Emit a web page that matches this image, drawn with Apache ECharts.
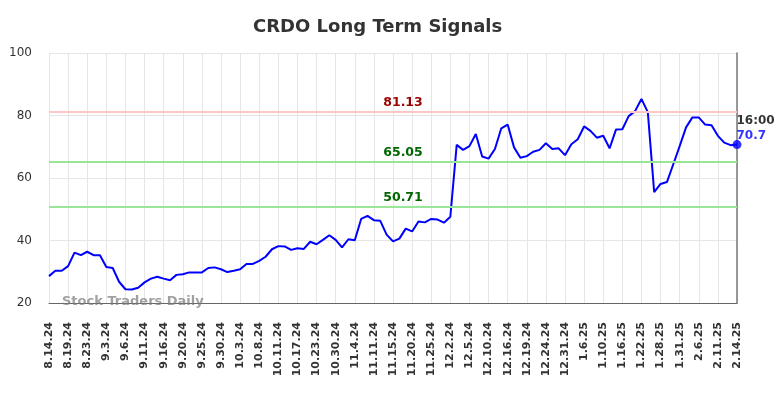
<!DOCTYPE html>
<html>
<head>
<meta charset="utf-8">
<script src="https://cdn.jsdelivr.net/npm/echarts@6/dist/echarts.min.js"></script>
<style>
  html, body { margin: 0; padding: 0; background: #fff; }
  #chart { width: 784px; height: 398px; }
</style>
</head>
<body>
<div id="chart"></div>
<script>
  // tick labels, one every 3 data points
  const dateLabels = ['8.14.24','8.19.24','8.23.24','9.3.24','9.6.24','9.11.24','9.16.24','9.20.24','9.25.24','9.30.24',
    '10.3.24','10.8.24','10.11.24','10.17.24','10.23.24','10.30.24','11.4.24','11.11.24','11.15.24','11.20.24',
    '11.25.24','12.2.24','12.5.24','12.10.24','12.16.24','12.19.24','12.24.24','12.31.24','1.6.25','1.10.25',
    '1.16.25','1.22.25','1.28.25','1.31.25','2.6.25','2.11.25','2.14.25']

  const signal = [
    28.6, 30.3, 30.3, 31.8, 36.1, 35.3, 36.4, 35.3, 35.3, 31.5,
    31.2, 26.8, 24.4, 24.3, 24.9, 26.6, 27.8, 28.4, 27.8, 27.3,
    29.0, 29.2, 29.8, 29.8, 29.8, 31.2, 31.4, 30.8, 29.9, 30.3,
    30.8, 32.5, 32.5, 33.5, 34.8, 37.2, 38.2, 38.1, 37.0, 37.5,
    37.3, 39.6, 38.8, 40.2, 41.7, 40.2, 37.8, 40.4, 40.1, 46.9,
    47.9, 46.5, 46.3, 41.9, 39.7, 40.6, 43.8, 42.9, 46.1, 45.8,
    46.9, 46.7, 45.7, 47.6, 70.6, 69.0, 70.2, 74.1, 66.9, 66.2,
    69.3, 75.9, 77.1, 69.8, 66.5, 67.0, 68.4, 69.0, 71.1, 69.3,
    69.5, 67.3, 70.8, 72.4, 76.5, 75.1, 72.9, 73.5, 69.5, 75.5,
    75.6, 79.8, 81.4, 85.3, 81.1, 55.5, 58.1, 58.7, 64.4, 70.2,
    76.2, 79.4, 79.4, 77.1, 76.9, 73.5, 71.3, 70.5, 70.7
  ]

  const levels = [81.13, 65.05, 50.71]
  const levelColors = ['#ffc6c6', '#98e698', '#98e698']
  const levelTextColors = ['#990000', '#006600', '#006600']
  const lastTime = '16:00'

  const categories = signal.map((v, i) => (i % 3 === 0 ? dateLabels[i / 3] : ''))
  const last = signal.length - 1

  const chart = echarts.init(document.getElementById('chart'), null, { renderer: 'canvas' })
  chart.setOption({
    animation: false,
    textStyle: { fontFamily: 'DejaVu Sans' },
    title: {
      text: 'CRDO Long Term Signals',
      left: 248,
      top: 13,
      textStyle: { fontSize: 18, fontWeight: 'bold', color: '#333', fontFamily: 'DejaVu Sans' }
    },
    grid: { left: 49, right: 47, top: 53, bottom: 95 },
    xAxis: {
      type: 'category',
      data: categories,
      boundaryGap: false,
      axisLine: { lineStyle: { color: '#666', width: 1 } },
      axisTick: { show: false },
      axisLabel: {
        interval: 2,
        rotate: 90,
        margin: 19,
        fontSize: 11,
        fontWeight: 'bold',
        color: '#333'
      },
      splitLine: { show: true, interval: 2, lineStyle: { color: '#e6e6e6' } }
    },
    yAxis: [
      {
        type: 'value',
        min: 20,
        max: 100,
        interval: 20,
        axisLine: { show: false },
        axisTick: { show: false },
        axisLabel: { fontSize: 12, color: '#333', margin: 17 },
        splitLine: { lineStyle: { color: '#e6e6e6' } }
      },
      {
        type: 'value',
        position: 'right',
        min: 20,
        max: 100,
        interval: 20,
        axisLine: { show: true, lineStyle: { color: '#777', width: 1.5 } },
        axisTick: { show: false },
        axisLabel: { show: false },
        splitLine: { show: false }
      }
    ],
    graphic: [{
      type: 'text',
      left: 62,
      top: 295,
      z: 100,
      style: {
        text: 'Stock Traders Daily',
        fontSize: 13,
        fontWeight: 'bold',
        fontFamily: 'DejaVu Sans',
        fill: 'rgba(120,120,120,0.7)'
      }
    }],
    series: [
      {
        type: 'line',
        data: signal,
        showSymbol: false,
        lineStyle: { color: '#0000ff', width: 2 },
        itemStyle: { color: '#0000ff' },
        markLine: {
          silent: true,
          symbol: 'none',
          data: levels.map((lv, k) => ({
            yAxis: lv,
            lineStyle: { color: levelColors[k], width: 2, type: 'solid' },
            label: {
              show: true,
              position: 'middle',
              distance: 3,
              offset: [10, 0],
              formatter: lv.toFixed(2),
              fontSize: 12.5,
              fontWeight: 'bold',
              color: levelTextColors[k]
            }
          }))
        }
      },
      {
        type: 'scatter',
        data: [[last, signal[last]]],
        symbol: 'circle',
        symbolSize: 9,
        itemStyle: { color: '#0000ff' },
        z: 5,
        label: {
          show: true,
          position: [4, -27],
          align: 'left',
          verticalAlign: 'top',
          formatter: '{t|' + lastTime + '}\n{v|' + signal[last] + '}',
          rich: {
            t: { fontSize: 12, fontWeight: 'bold', color: '#000', lineHeight: 15 },
            v: { fontSize: 12, fontWeight: 'bold', color: '#0000ff', lineHeight: 15 }
          }
        }
      }
    ]
  })
</script>
</body>
</html>
